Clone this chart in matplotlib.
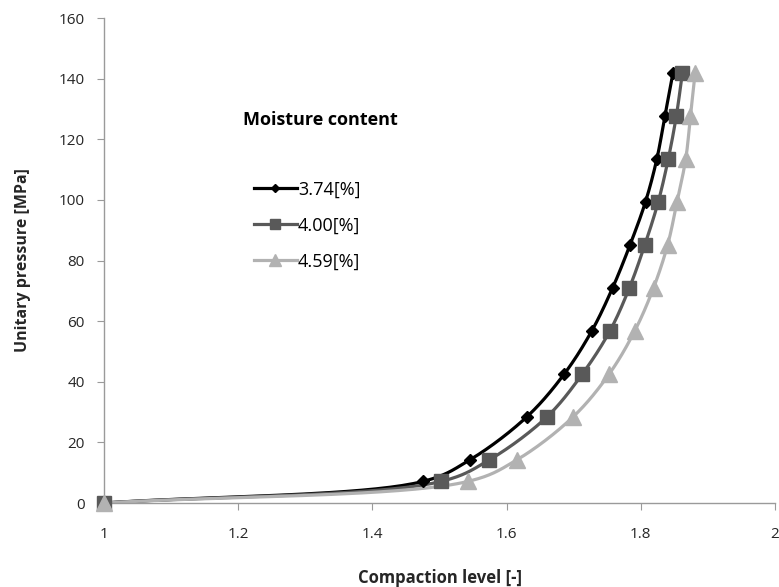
import numpy as np
import matplotlib
matplotlib.use("Agg")
import matplotlib.pyplot as plt

# data
pressure = [0, 7.1, 14.2, 28.4, 42.6, 56.8, 71.0, 85.2, 99.4, 113.6, 127.8, 142.0]
comp_374 = [1.0, 1.475, 1.545, 1.630, 1.686, 1.727, 1.758, 1.784, 1.807, 1.824, 1.836, 1.848]
comp_400 = [1.0, 1.502, 1.574, 1.660, 1.713, 1.754, 1.783, 1.806, 1.826, 1.841, 1.853, 1.862]
comp_459 = [1.0, 1.542, 1.615, 1.699, 1.753, 1.791, 1.819, 1.840, 1.854, 1.867, 1.874, 1.881]
labels = ["3.74[%]", "4.00[%]", "4.59[%]"]
colors = ["#000000", "#595959", "#b2b2b2"]
markers = ["D", "s", "^"]
msizes = [6, 10.5, 11]

plt.rcParams['font.family'] = ['Open Sans', 'DejaVu Sans']


def smooth(ax, xs, ys, n=40, alpha=0.5):
    # smoothed line like a spreadsheet chart: centripetal catmull-rom in screen space
    pts = ax.transData.transform(np.column_stack([xs, ys]))
    pts = np.vstack([2 * pts[0] - pts[1], pts, 2 * pts[-1] - pts[-2]])
    out = [pts[1]]
    for i in range(1, len(pts) - 2):
        p0, p1, p2, p3 = pts[i - 1], pts[i], pts[i + 1], pts[i + 2]
        d1 = np.linalg.norm(p1 - p0) ** alpha
        d2 = np.linalg.norm(p2 - p1) ** alpha
        d3 = np.linalg.norm(p3 - p2) ** alpha
        c1 = (d1 ** 2 * p2 - d2 ** 2 * p0 + (2 * d1 ** 2 + 3 * d1 * d2 + d2 ** 2) * p1) / (3 * d1 * (d1 + d2))
        c2 = (d3 ** 2 * p1 - d2 ** 2 * p3 + (2 * d3 ** 2 + 3 * d3 * d2 + d2 ** 2) * p2) / (3 * d3 * (d3 + d2))
        t = np.linspace(0, 1, n)[1:, None]
        seg = ((1 - t) ** 3 * p1 + 3 * (1 - t) ** 2 * t * c1
               + 3 * (1 - t) * t ** 2 * c2 + t ** 3 * p2)
        out.extend(seg)
    out = ax.transData.inverted().transform(np.array(out))
    return out[:, 0], out[:, 1]


fig = plt.figure(figsize=(7.79, 5.87), dpi=100)
ax = fig.add_axes([0.1335, 0.1431, 0.8614, 0.8262])
ax.set_xlim(1, 2)
ax.set_ylim(0, 160)

series = [comp_374, comp_400, comp_459]
handles = []
for xs, lab, c, mk, ms in zip(series, labels, colors, markers, msizes):
    sx, sy = smooth(ax, xs, pressure)
    ax.plot(sx, sy, color=c, lw=2.3, zorder=2, solid_capstyle='round')
    ax.plot(xs, pressure, ls='none', marker=mk, color=c, ms=ms, zorder=3,
            clip_on=False)
    h, = ax.plot([], [], color=c, lw=2.3, marker=mk, ms=ms * 0.75)
    handles.append(h)

ax.set_xticks([1, 1.2, 1.4, 1.6, 1.8, 2])
ax.set_xticklabels(["1", "1.2", "1.4", "1.6", "1.8", "2"])
ax.set_yticks(range(0, 161, 20))
for s in ["top", "right"]:
    ax.spines[s].set_visible(False)
for s in ["left", "bottom"]:
    ax.spines[s].set_color("#9a9a9a")
    ax.spines[s].set_linewidth(1.0)
ax.tick_params(colors="#9a9a9a", labelcolor="#262626", labelsize=11, length=5)
ax.tick_params(axis='x', pad=12)
ax.tick_params(axis='y', pad=9)

ax.set_xlabel("Compaction level [-]", fontsize=12, fontweight='bold',
              color="#262626", labelpad=20)
ax.set_ylabel("Unitary pressure [MPa]", fontsize=11.5, fontweight='bold',
              color="#262626", labelpad=20)

ax.text(0.207, 0.790, "Moisture content", transform=ax.transAxes,
        fontsize=13, fontweight='bold', va='center', ha='left')
ax.legend(handles=handles, labels=labels, loc='upper left',
          bbox_to_anchor=(0.223, 0.665), frameon=False, fontsize=13,
          labelspacing=1.0, handlelength=2.4, handletextpad=0.05,
          borderpad=0, borderaxespad=0)

plt.savefig("out.png", dpi=100)
